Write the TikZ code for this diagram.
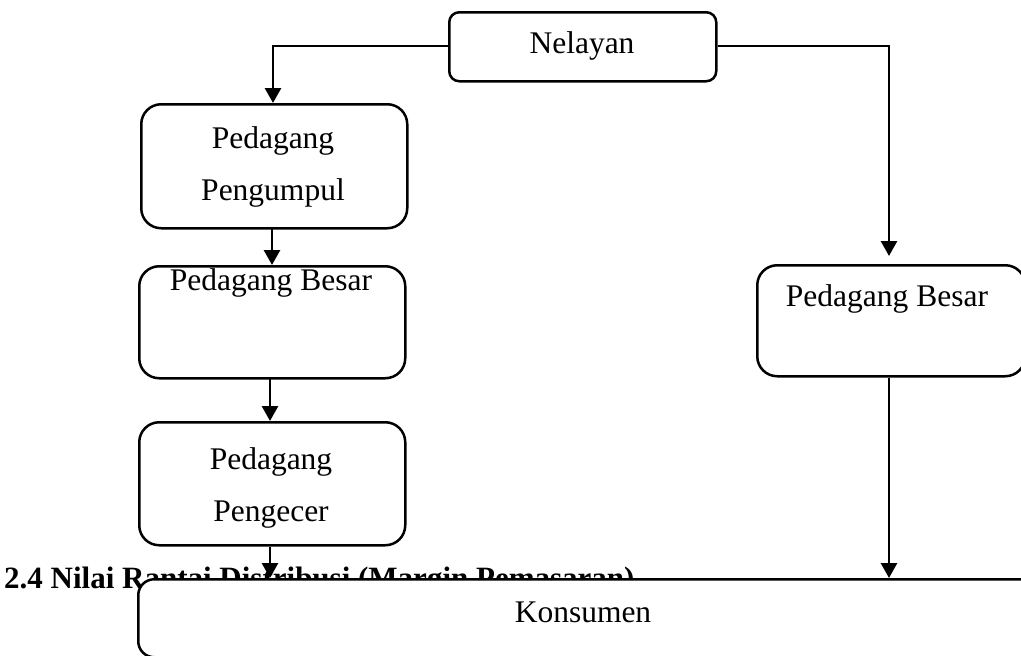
\documentclass[tikz,border=0pt]{standalone}
\usepackage{fontspec}
\setmainfont{Liberation Serif}
\usetikzlibrary{arrows.meta}
\begin{document}
\begin{tikzpicture}[x=1pt,y=-1pt,
  box/.style={draw, line width=2.5pt, fill=white, rounded corners=#1,
              inner sep=0pt, anchor=north west},
  box/.default=20pt,
  lbl/.style={font=\fontsize{31.5}{38}\selectfont, anchor=base, inner sep=0pt},
  flow/.style={line width=2.8pt, -{Triangle[width=16pt,length=15pt]}}]
\useasboundingbox (0,0) rectangle (1021,656);
\clip (0,0) rectangle (1021,656);

% section heading, partly hidden behind the consumer box
\node[font=\fontsize{31}{38}\bfseries\selectfont, anchor=base west, inner sep=0pt]
  (head) at (4,588) {2.4 Nilai Rantai Distribusi (Margin Pemasaran)};

% boxes
\node[box=10pt, minimum width=267pt, minimum height=69pt]  (nel) at (448,11)  {};
\node[box, minimum width=266pt, minimum height=124pt] (pp)  at (140,103) {};
\node[box, minimum width=266pt, minimum height=112pt] (pbl) at (138,265) {};
\node[box, minimum width=266pt, minimum height=123pt] (pec) at (138,421) {};
\node[box, minimum width=268pt, minimum height=111pt] (pbr) at (756,264) {};
\node[box=16pt, minimum width=910pt, minimum height=78pt]  (kon) at (137,578) {};

% labels
\node[lbl] (tnel)  at (582,53)  {Nelayan};
\node[lbl] (tpp1)  at (273,148) {Pedagang};
\node[lbl] (tpp2)  at (273,200) {Pengumpul};
\node[lbl] (tpbl)  at (271,290) {Pedagang Besar};
\node[lbl] (tpec1) at (271,469) {Pedagang};
\node[lbl] (tpec2) at (271,521) {Pengecer};
\node[lbl] (tpbr)  at (887,306) {Pedagang Besar};
\node[lbl] (tkon)  at (583,622) {Konsumen};

% connectors
\coordinate (kl) at (270,578);
\coordinate (kr) at (889,578);
\draw[flow] (nel.west |- 0,46) -| (273,103);
\draw[flow, shorten >=8pt] (nel.east |- 0,46) -| (pbr.north -| kr);
\draw[flow] (272,227) -- (272,265);
\draw[flow] (270,377) -- (270,421);
\draw[flow] (pec.south -| kl) -- (kl);
\draw[flow] (pbr.south -| kr) -- (kr);
\end{tikzpicture}
\end{document}
